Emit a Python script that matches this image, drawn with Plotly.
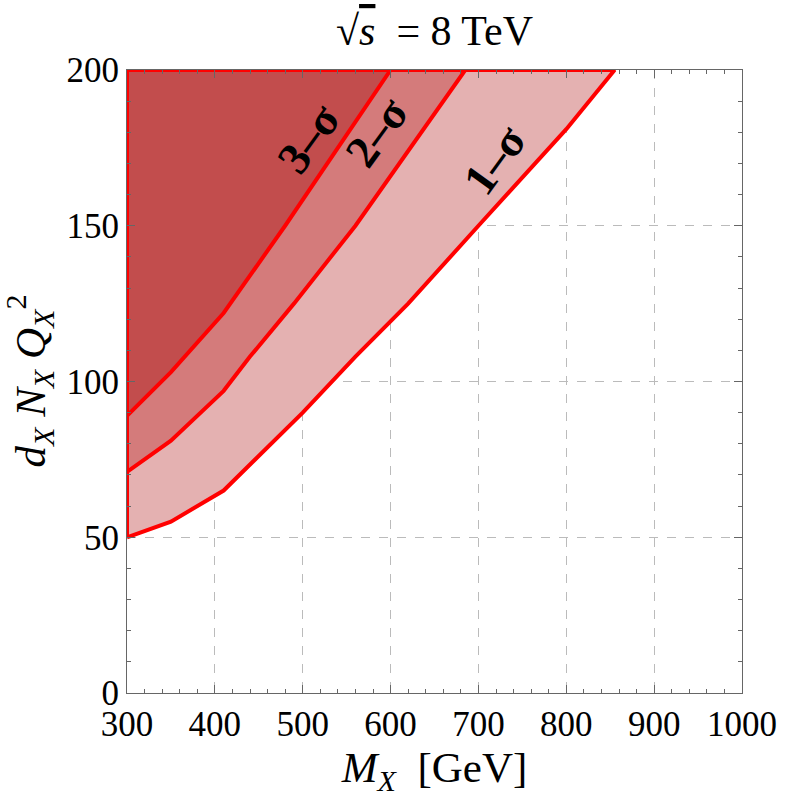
import plotly.graph_objects as go

# 1-sigma boundary
m1 = [300, 350, 410, 500, 560, 620, 700, 800, 855]
d1 = [50, 55, 65, 90, 108, 125, 150, 181, 200]
# 2-sigma boundary
m2 = [300, 350, 410, 440, 490, 560, 685]
d2 = [71, 81, 97, 108, 125, 150, 200]
# 3-sigma boundary
m3 = [300, 350, 410, 480, 600]
d3 = [89, 103, 122, 150, 200]

labels = ["1\u2013\u03c3", "2\u2013\u03c3", "3\u2013\u03c3"]
label_x = [718, 584, 507]
label_y = [171, 180, 178]

fills = ["#E4B1B1", "#D47B7B", "#C24D4D"]
XMIN, XMAX, YMIN, YMAX = 300, 1000, 0, 200

fig = go.Figure()
for (mx, dy, col) in [(m1, d1, fills[0]), (m2, d2, fills[1]), (m3, d3, fills[2])]:
    xs = list(mx) + [XMIN, XMIN]
    ys = list(dy) + [YMAX, dy[0]]
    fig.add_trace(go.Scatter(x=xs, y=ys, mode="lines", fill="toself",
                             fillcolor=col, line=dict(color="#FF0000", width=4),
                             hoverinfo="skip", showlegend=False))

for t, x, y in zip(labels, label_x, label_y):
    fig.add_annotation(x=x, y=y, text="<b>" + t + "</b>", showarrow=False,
                       textangle=-54, font=dict(family="Liberation Serif", size=46, color="black"))

fig.add_annotation(x=0.5, y=1.0, xref="paper", yref="paper", yanchor="bottom", yshift=14,
                   text="\u221a<span style='text-decoration:overline'><i>s</i></span>  = 8 TeV",
                   showarrow=False, font=dict(family="Liberation Serif", size=42, color="black"))

# y-axis title as a rotated annotation
fig.add_annotation(x=0, y=0.5, xref="paper", yref="paper", xanchor="center", yanchor="middle",
                   xshift=-97, textangle=-90, showarrow=False,
                   text="<i>d<sub>X</sub> N<sub>X</sub> Q<sub>X</sub></i><sup>2</sup>",
                   font=dict(family="Liberation Serif", size=43, color="black"))

axis_common = dict(showline=True, linecolor="#666", linewidth=1, mirror="ticks",
                   ticks="inside", ticklen=8, tickcolor="#666", zeroline=False,
                   showgrid=True, gridcolor="#BBBBBB", griddash="dash", gridwidth=1,
                   layer="above traces",
                   tickfont=dict(family="Liberation Serif", size=35, color="black"))

fig.update_xaxes(range=[XMIN, XMAX], tickvals=[300, 400, 500, 600, 700, 800, 900, 1000],
                 minor=dict(dtick=20, ticklen=4, ticks="inside", tickcolor="#666", showgrid=False),
                 title=dict(text="<i>M<sub>X</sub></i>  [GeV]", standoff=6,
                            font=dict(family="Liberation Serif", size=43, color="black")),
                 **axis_common)
fig.update_yaxes(range=[YMIN, YMAX], tickvals=[0, 50, 100, 150, 200],
                 minor=dict(dtick=10, ticklen=4, ticks="inside", tickcolor="#666", showgrid=False),
                 **axis_common)

fig.update_layout(width=789, height=798, margin=dict(l=127, r=39, t=70, b=105),
                  plot_bgcolor="white", paper_bgcolor="white", showlegend=False)

fig.write_html("out.html", config={"displayModeBar": False},
               post_script="document.body.style.margin='0px';document.body.style.overflow='hidden';")
